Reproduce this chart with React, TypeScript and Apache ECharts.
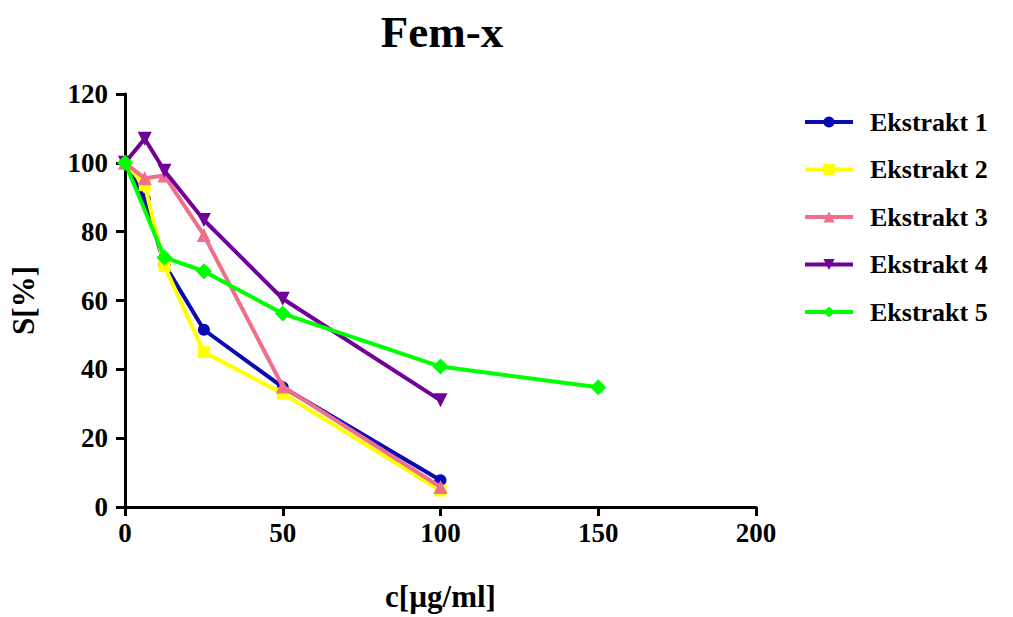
import React, { useEffect, useRef } from "react";
import * as echarts from "echarts";

const seriesNames = ["Ekstrakt 1", "Ekstrakt 2", "Ekstrakt 3", "Ekstrakt 4", "Ekstrakt 5"];
const colors = ["#0a0ab4", "#ffff00", "#f0708c", "#700098", "#00ff00"];
const symbols = ["circle", "rect", "triangle", "path://M0,0 L10,0 L5,10 Z", "diamond"];

const e1X = [0, 6.25, 12.5, 25, 50, 100];
const e1Y = [100, 89.5, 70.5, 51.5, 34.8, 7.8];
const e2X = [0, 6.25, 12.5, 25, 50, 100];
const e2Y = [100, 93.5, 70, 45, 33, 4.8];
const e3X = [0, 6.25, 12.5, 25, 50, 100];
const e3Y = [100, 95.5, 96.3, 79, 35, 5.8];
const e4X = [0, 6.25, 12.5, 25, 50, 100];
const e4Y = [100, 107, 97.7, 83.4, 60.5, 31];
const e5X = [0, 12.5, 25, 50, 100, 150];
const e5Y = [100, 72.5, 68.5, 56.2, 40.8, 34.8];

const xTicks = [0, 200, 50];
const yTicks = [0, 120, 20];

const allX = [e1X, e2X, e3X, e4X, e5X];
const allY = [e1Y, e2Y, e3Y, e4Y, e5Y];

const FONT = "Liberation Serif";

export default function App() {
  const ref = useRef<HTMLDivElement>(null);
  useEffect(() => {
    if (!ref.current) return;
    const chart = echarts.init(ref.current, null, { renderer: "svg" });
    const series = seriesNames.map((name, i) => ({
      name,
      type: "line",
      data: allX[i].map((x, j) => [x, allY[i][j]]),
      symbol: symbols[i],
      symbolSize: i === 2 || i === 3 ? 14 : i === 4 ? 16 : 12,
      lineStyle: { color: colors[i], width: 4 },
      itemStyle: { color: colors[i] },
      z: 2 + i,
    }));
    chart.setOption({
      animation: false,
      title: {
        text: "Fem-x",
        left: 437,
        textAlign: "center",
        top: 4,
        textStyle: { fontFamily: FONT, fontWeight: "bold", fontSize: 45, color: "#000" },
      },
      legend: {
        orient: "vertical",
        left: 798,
        top: 104,
        itemWidth: 48,
        itemHeight: 14,
        itemGap: 21.5,
        data: seriesNames,
        lineStyle: { width: 4 },
        textStyle: { fontFamily: FONT, fontWeight: "bold", fontSize: 26, color: "#000", padding: [0, 0, 0, 12] },
      },
      grid: { left: 124, right: 257, top: 94, bottom: 104, containLabel: false },
      xAxis: {
        type: "value",
        min: xTicks[0],
        max: xTicks[1],
        interval: xTicks[2],
        name: "c[µg/ml]",
        nameLocation: "middle",
        nameGap: 74,
        nameTextStyle: { fontFamily: FONT, fontWeight: "bold", fontSize: 31, color: "#000" },
        axisLine: { lineStyle: { color: "#000", width: 3 } },
        axisTick: { length: 9, lineStyle: { color: "#000", width: 3 } },
        axisLabel: { fontFamily: FONT, fontWeight: "bold", fontSize: 27, color: "#000", margin: 12 },
        splitLine: { show: false },
      },
      yAxis: {
        type: "value",
        min: yTicks[0],
        max: yTicks[1],
        interval: yTicks[2],
        name: "S[%]",
        nameLocation: "middle",
        nameGap: 86,
        nameTextStyle: { fontFamily: FONT, fontWeight: "bold", fontSize: 31, color: "#000" },
        axisLine: { lineStyle: { color: "#000", width: 3 } },
        axisTick: { length: 9, lineStyle: { color: "#000", width: 3 } },
        axisLabel: { fontFamily: FONT, fontWeight: "bold", fontSize: 27, color: "#000", margin: 17 },
        splitLine: { show: false },
      },
      series,
    });
    return () => chart.dispose();
  }, []);
  return (
    <div
      ref={ref}
      style={{ position: "absolute", left: 0, top: 0, width: 1013, height: 617, background: "#fff" }}
    />
  );
}
